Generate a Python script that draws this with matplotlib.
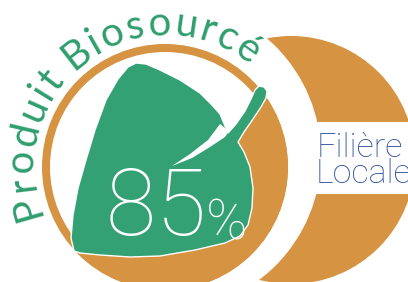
import numpy as np
import matplotlib
matplotlib.use('Agg')
import matplotlib.pyplot as plt
from matplotlib.patches import Circle, Polygon, Rectangle
from matplotlib.font_manager import FontProperties

ORANGE = '#d69341'
GREEN = '#33a173'
TEXT_GREEN = '#2f9e6e'
BLUE = '#30509f'

# texts / values of the badge
arc_text = 'Produit Biosourcé'
share_pct = 85
side_lines = ['Filière', 'Locale']

# leaf outline (pixel coords, y down)
leaf_x = [74, 71, 73, 78, 86, 95, 106, 118, 128, 136, 146, 160, 180, 200, 212, 220,
          228, 236, 245, 251, 255, 259, 264, 267, 266, 261, 253, 244, 238,
          244, 250, 253, 252, 248, 240, 225, 195, 160, 130, 100, 80]
leaf_y = [251, 238, 215, 188, 160, 130, 100, 79, 67, 63, 64, 70, 80, 93, 105, 114,
          133, 124, 111, 99, 90, 86, 87, 91, 98, 107, 119, 132, 142,
          152, 167, 188, 208, 225, 236, 243, 250, 256, 257, 255, 253]
# white vein cut into the leaf
vein_x = [172, 190, 208, 220, 229, 225, 210, 192]
vein_y = [166, 154, 140, 124, 131, 137, 147, 158]
# orange filling between leaf and ring (lower right)
fill_x = [74, 55, 340, 340, 262, 258, 252, 245, 238, 200, 120]
fill_y = [251, 300, 300, 80, 88, 92, 105, 122, 138, 190, 240]

main_c = (165, 167)
fig = plt.figure(figsize=(4.08, 2.82), dpi=100)
ax = fig.add_axes([0, 0, 1, 1])
ax.set_xlim(0, 408)
ax.set_ylim(282, 0)
ax.set_aspect('equal')
ax.axis('off')

# right crescent
ax.add_patch(Circle((291, 160), 124, fc=ORANGE, ec='none'))
ax.add_patch(Rectangle((280, 122), 140, 72, fc='white', ec='none'))
ax.add_patch(Circle((166, 156), 155, fc='white', ec='none'))

# main ring
ax.add_patch(Circle(main_c, 123, fc=ORANGE, ec='none'))
ax.add_patch(Circle(main_c, 115, fc='white', ec='none'))
clip = Circle(main_c, 123, transform=ax.transData)
fill = Polygon(list(zip(fill_x, fill_y)), fc=ORANGE, ec='none')
ax.add_patch(fill)
fill.set_clip_path(clip)

# leaf
ax.add_patch(Polygon(list(zip(leaf_x, leaf_y)), fc=GREEN, ec='white', lw=1.0,
                     joinstyle='round'))
ax.add_patch(Polygon(list(zip(vein_x, vein_y)), fc='white', ec='none'))

# 85%
for ch, x0 in zip(str(share_pct), [106, 156]):
    ax.text(x0, 235, ch, fontsize=66, color='white', family='Roboto',
            weight='light', va='baseline', ha='left')
ax.text(206, 240, '%', fontsize=40, color='white', family='Roboto',
        weight='light', va='baseline', ha='left')

# Filière / Locale
ax.text(317, 157, side_lines[0], fontsize=24.5, color=BLUE, family='Roboto',
        weight='light', va='baseline', ha='left')
ax.text(316, 183, side_lines[1], fontsize=24.5, color=BLUE, family='Roboto',
        weight='light', va='baseline', ha='left')

# curved text
renderer = fig.canvas.get_renderer()
fp = FontProperties(family='Lato', weight='normal', size=29)


def tw(s):
    w, h, d = renderer.get_text_width_height_descent(s, fp, ismath=False)
    return w


chars = []
for i, ch in enumerate(arc_text):
    if ch == ' ':
        continue
    chars.append((ch, tw(arc_text[:i + 1]) - tw(ch) / 2))

a0, a1 = 196, 55
R = 132
s0, s1 = chars[0][1], chars[-1][1]
for ch, s in chars:
    a = a0 + (s - s0) / (s1 - s0) * (a1 - a0)
    t = np.radians(a)
    x = main_c[0] + R * np.cos(t)
    y = main_c[1] - R * np.sin(t)
    ax.text(x, y, ch, fontproperties=fp, color=TEXT_GREEN, rotation=a - 90,
            ha='center', va='baseline', rotation_mode='anchor')

fig.savefig('out.png', dpi=100)
